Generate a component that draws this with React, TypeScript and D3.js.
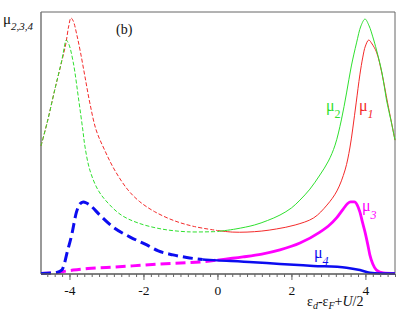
import React, { useEffect, useRef } from 'react';
import * as d3 from 'd3';

// x values (eps_d - eps_F + U/2) and curve heights (arb. units, 0..100)
const mu1X = [-4.77, -4.6, -4.4, -4.2, -4.1, -4.02, -3.96, -3.9, -3.8, -3.7, -3.58, -3.45, -3.28, -3.05, -2.78, -2.42, -2.1, -1.7, -1.16, -0.62, 0, 0.4, 0.8, 1.2, 1.6, 2.1, 2.6, 2.96, 3.23, 3.45, 3.58, 3.66, 3.75, 3.85, 3.93, 4.0, 4.09, 4.18, 4.3, 4.45, 4.6, 4.8];
const mu1Y = [48.9, 58.0, 70.2, 81.7, 87.8, 94.7, 97.7, 96.6, 91.2, 84.4, 75.2, 65.3, 55.0, 47.3, 39.7, 32.1, 27.6, 23.8, 20.3, 18.1, 16.6, 16.0, 16.0, 16.4, 17.2, 18.7, 21.4, 26.3, 31.7, 39.7, 48.1, 55.7, 65.3, 76.0, 82.8, 87.0, 89.3, 87.8, 84.7, 76.3, 65.3, 51.1];

const mu2X = [-4.77, -4.6, -4.4, -4.2, -4.14, -4.09, -4.02, -3.9, -3.75, -3.64, -3.58, -3.45, -3.23, -2.96, -2.6, -2.15, -1.52, -0.8, 0, 0.5, 1.0, 1.35, 1.69, 2.0, 2.23, 2.5, 2.77, 3.0, 3.18, 3.35, 3.49, 3.62, 3.76, 3.88, 3.99, 4.1, 4.2, 4.3, 4.45, 4.57, 4.7, 4.8];
const mu2Y = [48.9, 58.0, 70.2, 82.1, 86.6, 89.3, 87.8, 80.9, 66.4, 55.0, 48.5, 39.7, 32.1, 27.1, 22.5, 19.5, 17.2, 16.1, 16.2, 17.2, 18.7, 20.4, 22.5, 25.2, 28.2, 32.4, 37.8, 43.1, 49.2, 58.8, 69.1, 79.4, 88.2, 94.7, 97.3, 94.7, 90.5, 85.5, 76.7, 66.4, 58.0, 51.1];

const mu3X = [-4.77, -4.35, -4.1, -3.9, -3.5, -3.0, -2.3, -1.6, -1.0, -0.47, 0, 0.69, 1.2, 1.69, 2.23, 2.77, 3.0, 3.22, 3.4, 3.52, 3.6, 3.7, 3.78, 3.85, 3.92, 3.99, 4.06, 4.12, 4.2, 4.3, 4.48, 4.8];
const mu3Y = [0.2, 0.5, 1.1, 1.5, 2.1, 2.5, 3.1, 3.8, 4.2, 4.6, 5.3, 6.5, 7.6, 9.2, 11.8, 16.0, 18.3, 21.4, 24.8, 26.9, 27.5, 27.5, 26.3, 23.7, 19.8, 16.0, 11.5, 7.3, 3.8, 1.5, 0.4, 0.2];

const mu4X = [-4.77, -4.35, -4.21, -4.14, -4.08, -3.94, -3.81, -3.72, -3.63, -3.54, -3.45, -3.18, -2.82, -2.36, -1.91, -1.6, -1.2, -0.83, -0.4, 0, 0.97, 1.69, 2.59, 3.49, 3.85, 4.12, 4.39, 4.8];
const mu4Y = [0.2, 0.6, 1.5, 3.8, 7.3, 14.9, 23.7, 26.7, 27.5, 27.1, 26.3, 22.5, 17.9, 14.1, 11.1, 8.8, 7.3, 6.3, 5.5, 5.2, 4.5, 3.8, 3.1, 2.4, 1.5, 0.5, 0.2, 0.2];

const majorTicks = [-4, -2, 0, 2, 4];
const minorTicks = d3.range(-4.6, 4.81, 0.2).map((v) => Math.round(v * 10) / 10);

const width = 409;
const height = 316;
const left = 41;
const right = 395;
const top = 12;
const bottom = 274;

const serif = '"Liberation Serif", "Times New Roman", serif';

function App() {
  const axisRef = useRef<SVGGElement>(null);

  const x = d3.scaleLinear().domain([-4.77, 4.8]).range([left, right]);
  const y = d3.scaleLinear().domain([0, 100]).range([bottom, top]);

  // thin curves: smooth through the read points
  const smooth = d3.line<[number, number]>()
    .x((d) => x(d[0]))
    .y((d) => y(d[1]))
    .curve(d3.curveCatmullRom.alpha(0.5));

  // thick curves sit on the axis, monotone keeps them from dipping below it
  const mono = d3.line<[number, number]>()
    .x((d) => x(d[0]))
    .y((d) => y(d[1]))
    .curve(d3.curveMonotoneX);

  const pairs = (xs: number[], ys: number[]) => xs.map((v, i) => [v, ys[i]] as [number, number]);
  const before = (p: [number, number][], s: number) => p.filter((d) => d[0] <= s);
  const after = (p: [number, number][], s: number) => p.filter((d) => d[0] >= s);

  const p1 = pairs(mu1X, mu1Y);
  const p2 = pairs(mu2X, mu2Y);
  const p3 = pairs(mu3X, mu3Y);
  const p4 = pairs(mu4X, mu4Y);

  const red = '#f42a2a';
  const green = '#2fe02f';
  const magenta = '#ff00ff';
  const blue = '#0c0cf0';

  useEffect(() => {
    const g = d3.select(axisRef.current);
    g.selectAll('*').remove();

    const minor = d3.axisBottom(x).tickValues(minorTicks).tickSize(3).tickFormat(() => '');
    const major = d3.axisBottom(x).tickValues(majorTicks).tickSize(6).tickPadding(5)
      .tickFormat((d) => String(d));

    g.append('g').attr('transform', `translate(0,${bottom})`).call(minor);
    g.append('g').attr('transform', `translate(0,${bottom})`).call(major);

    g.selectAll('.domain').remove();
    g.selectAll('.tick line').attr('stroke', '#666');
    g.selectAll('.tick text')
      .attr('fill', '#111')
      .attr('font-family', serif)
      .attr('font-size', 13.5);
  }, []);

  return (
    <div style={{ position: 'absolute', left: 0, top: 0 }}>
      <svg width={width} height={height} style={{ display: 'block', background: '#fff' }}>
        {/* frame */}
        <line x1={left} x2={right} y1={top} y2={top} stroke="#666" strokeWidth={1} />
        <line x1={right} x2={right} y1={top} y2={bottom} stroke="#666" strokeWidth={1} />
        <line x1={left} x2={left} y1={top} y2={bottom} stroke="#777" strokeWidth={1.5} />

        {/* thin curves */}
        <path d={smooth(before(p1, 0)) || ''} fill="none" stroke={red} strokeWidth={1} strokeDasharray="4,2" />
        <path d={smooth(after(p1, 0)) || ''} fill="none" stroke={red} strokeWidth={1} />
        <path d={smooth(before(p2, 0)) || ''} fill="none" stroke={green} strokeWidth={1} strokeDasharray="4,2" />
        <path d={smooth(after(p2, 0)) || ''} fill="none" stroke={green} strokeWidth={1} />

        {/* thick curves */}
        <path d={mono(before(p3, 0)) || ''} fill="none" stroke={magenta} strokeWidth={3} strokeDasharray="10,5" />
        <path d={mono(after(p3, 0)) || ''} fill="none" stroke={magenta} strokeWidth={2.8} />
        <path d={mono(before(p4, -0.4)) || ''} fill="none" stroke={blue} strokeWidth={3} strokeDasharray="10,5" />
        <path d={mono(after(p4, -0.4)) || ''} fill="none" stroke={blue} strokeWidth={2.5} />

        <line x1={left} x2={right} y1={bottom} y2={bottom} stroke="#555" strokeWidth={1.3} />
        <g ref={axisRef} />

        {/* labels */}
        <g fontFamily={serif}>
          <text x={3} y={24} fontSize={15} fill="#111">
            μ<tspan fontSize={11} fontStyle="italic" dy={6}>2,3,4</tspan>
          </text>
          <text x={116} y={34} fontSize={14} fill="#111">(b)</text>

          <text x={326} y={111} fontSize={16} fill={green}>
            μ<tspan fontSize={12} dy={7}>2</tspan>
          </text>
          <text x={359} y={111} fontSize={16} fill={red}>
            μ<tspan fontSize={12} fontStyle="italic" dy={7}>1</tspan>
          </text>
          <text x={362} y={211} fontSize={16} fill={magenta}>
            μ<tspan fontSize={12} fontStyle="italic" dy={8}>3</tspan>
          </text>
          <text x={314} y={258} fontSize={16} fill={blue}>
            μ<tspan fontSize={12} fontStyle="italic" dy={7}>4</tspan>
          </text>

          <text x={307} y={306} fontSize={14} fill="#111">
            ε<tspan fontSize={10} fontStyle="italic" dy={3}>d</tspan>
            <tspan dy={-3}>-ε</tspan>
            <tspan fontSize={10} fontStyle="italic" dy={3}>F</tspan>
            <tspan dy={-3}>+</tspan>
            <tspan fontStyle="italic">U</tspan>
            <tspan>/2</tspan>
          </text>
        </g>
      </svg>
    </div>
  );
}

export default App;
